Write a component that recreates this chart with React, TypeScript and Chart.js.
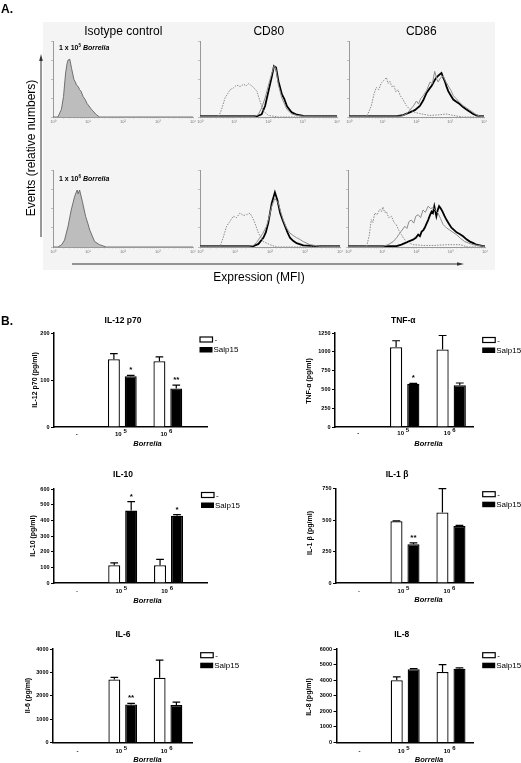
import React, { useEffect, useRef } from "react";
import { Chart, registerables } from "chart.js";
Chart.register(...registerables);

const FONT = "'Liberation Sans', Arial, Helvetica, sans-serif";
Chart.defaults.font.family = FONT;
Chart.defaults.color = "#000";

// ---------------- Panel B data ----------------
const doseIndex = [0, 1, 2];
const doseBase = ["-", "10", "10"];
const doseExp = ["", "5", "6"];
const legendLabels = ["-", "Salp15"];

const il12Medium = [null, 144, 140];
const il12MediumErr = [0, 12, 9];
const il12Salp = [null, 108, 82];
const il12SalpErr = [0, 2, 7];
const il12Sig = ["", "*", "**"];

const tnfMedium = [null, 1062, 1032];
const tnfMediumErr = [0, 85, 185];
const tnfSalp = [null, 575, 555];
const tnfSalpErr = [0, 4, 30];
const tnfSig = ["", "*", ""];

const il10Medium = [null, 113, 113];
const il10MediumErr = [0, 16, 38];
const il10Salp = [null, 462, 430];
const il10SalpErr = [0, 58, 7];
const il10Sig = ["", "*", "*"];

const il1bMedium = [null, 490, 559];
const il1bMediumErr = [0, 3, 190];
const il1bSalp = [null, 307, 453];
const il1bSalpErr = [0, 12, 5];
const il1bSig = ["", "**", ""];

const il6Medium = [null, 2700, 2770];
const il6MediumErr = [0, 85, 757];
const il6Salp = [null, 1630, 1600];
const il6SalpErr = [0, 40, 128];
const il6Sig = ["", "**", ""];

const il8Medium = [null, 4000, 4530];
const il8MediumErr = [0, 210, 470];
const il8Salp = [null, 4700, 4740];
const il8SalpErr = [0, 40, 50];
const il8Sig = ["", "", ""];

// ---------------- Panel A data: [log10 MFI, % of max events] ----------------
const isoTop = [[0,0],[0.14,0],[0.24,10],[0.30,27],[0.36,58],[0.40,70],[0.43,75],[0.48,76],[0.53,64],[0.60,49],[0.64,46],[0.67,42],[0.72,40],[0.76,36],[0.80,34],[0.86,27],[0.92,23],[0.97,18],[1.10,10],[1.24,3],[1.33,0],[4,0]];
const isoBot = [[0,0],[0.14,0],[0.25,3],[0.33,9],[0.43,27],[0.52,48],[0.62,66],[0.69,74],[0.72,69],[0.76,74],[0.84,59],[0.93,40],[1.0,30],[1.05,22],[1.19,7],[1.33,3],[1.52,0],[4,0]];

const cd80TopCtrl = [[0,0],[0.54,0],[0.63,10],[0.73,25],[0.80,30],[0.88,36],[0.97,38],[1.07,42],[1.17,40],[1.27,43],[1.35,41],[1.41,44],[1.48,42],[1.56,39],[1.66,34],[1.75,21],[1.85,8],[2.0,2],[2.3,0],[4,0]];
const cd80TopGray = [[0,1],[1.6,1],[1.70,3],[1.80,12],[1.90,25],[2.0,42],[2.10,58],[2.17,68],[2.22,62],[2.29,42],[2.39,25],[2.54,10],[2.68,4],[2.83,2],[3.0,1],[4,1]];
const cd80TopBlack = [[0,1],[1.66,1],[1.80,3.5],[1.90,14.5],[2.0,34],[2.10,54],[2.16,67],[2.22,65],[2.29,47],[2.39,30],[2.46,24],[2.54,14],[2.68,6],[2.83,3],[3.02,1.5],[4,1]];

const cd86TopCtrl = [[0,0],[0.52,0],[0.66,14.5],[0.74,30],[0.81,39],[0.88,36],[0.96,45],[1.03,48],[1.11,52],[1.16,44],[1.21,47],[1.27,40],[1.33,41],[1.39,33],[1.45,36],[1.52,28],[1.60,23],[1.70,15],[1.80,10],[1.95,6],[2.10,4.5],[2.39,2],[2.7,3],[2.88,4],[3.1,2],[3.37,0],[4,0]];
const cd86TopGray = [[0,1],[1.55,1],[1.70,4],[1.80,9],[1.90,14],[2.0,21],[2.06,17],[2.12,24],[2.2,28],[2.30,35],[2.40,46],[2.47,44],[2.54,60],[2.60,50],[2.64,46],[2.72,52],[2.79,54],[2.86,47],[2.94,41],[3.02,35],[3.09,28],[3.18,24],[3.28,19],[3.38,15],[3.48,12],[3.58,9],[3.68,6],[3.78,3],[3.88,1],[4,1]];
const cd86TopBlack = [[0,1],[1.41,1],[1.60,2.5],[1.80,6],[1.95,9],[2.10,14.5],[2.20,22],[2.30,32],[2.38,37],[2.45,41],[2.52,47],[2.59,52],[2.66,55],[2.74,58],[2.79,52],[2.84,47],[2.89,40],[2.94,34],[3.02,28],[3.09,23],[3.18,20],[3.28,17],[3.38,13],[3.48,10],[3.58,7],[3.68,4],[3.78,2],[3.88,1],[4,1]];

const cd80BotCtrl = [[0,0],[0.57,0],[0.66,12],[0.76,27],[0.85,33],[0.95,40],[1.04,38],[1.14,44],[1.24,41],[1.33,42],[1.43,44],[1.50,38],[1.57,31],[1.67,18],[1.81,7],[2.0,3],[2.19,0],[4,0]];
const cd80BotGray = [[0,1],[1.40,1],[1.52,2],[1.62,6],[1.71,12],[1.80,18],[1.90,27],[1.98,40],[2.05,53],[2.14,63],[2.24,57],[2.31,45],[2.38,35],[2.47,25],[2.57,18],[2.66,15],[2.76,12],[2.85,10],[2.95,7],[3.05,5],[3.14,3],[3.43,1],[4,1]];
const cd80BotBlack = [[0,1],[1.52,1],[1.67,4],[1.81,12],[1.88,19],[1.95,31],[2.05,57],[2.14,71],[2.21,61],[2.29,44],[2.36,35],[2.43,27],[2.50,19],[2.57,12],[2.66,8],[2.76,5],[2.95,2],[3.33,1],[4,1]];

const cd86BotCtrl = [[0,0],[0.54,0],[0.62,15],[0.68,35.5],[0.73,32],[0.78,44],[0.85,42],[0.93,49],[0.98,46],[1.02,52],[1.07,45],[1.12,46],[1.19,38],[1.27,40],[1.34,32],[1.41,29],[1.48,22],[1.56,16],[1.63,11],[1.71,7],[1.90,3],[2.2,2],[2.49,2],[2.9,3],[3.27,3],[3.5,0],[4,0]];
const cd86BotGray = [[0,1],[1.02,1],[1.17,3],[1.32,7],[1.42,12],[1.51,18],[1.58,22],[1.66,27],[1.72,24],[1.78,33],[1.85,35],[1.92,31],[1.98,40],[2.05,42],[2.12,38],[2.19,48],[2.26,45],[2.34,53],[2.41,50],[2.49,51],[2.56,47],[2.63,44],[2.70,37],[2.78,29],[2.87,25],[2.97,22],[3.07,19],[3.17,16],[3.29,11],[3.41,7],[3.53,5],[3.65,3],[3.80,2],[3.94,1],[4,1]];
const cd86BotBlack = [[0,1],[1.41,1],[1.56,3],[1.71,6],[1.81,8],[1.90,9.5],[1.98,12],[2.05,16],[2.10,14],[2.15,20],[2.20,22],[2.24,25],[2.29,30],[2.34,35],[2.39,41],[2.44,46],[2.48,44],[2.52,53],[2.58,40],[2.62,48],[2.66,53],[2.71,50],[2.76,46],[2.82,40],[2.88,35],[2.95,30],[3.02,25],[3.10,22],[3.17,19],[3.26,17],[3.36,14],[3.46,10],[3.56,7],[3.66,5],[3.75,3],[3.85,2],[3.94,1],[4,1]];

const decadeLabels = ["10\u2070", "10\u00B9", "10\u00B2", "10\u00B3", "10\u2074"];

// ---------------- Bar panel ----------------
type BarSpec = {
  cell: number[]; area: number[]; xRange: number[];
  yMax: number; yStep: number;
  title: string; titlePos: number[];
  yTitle: string; yTitlePos: number[];
  legendPos: number[]; catY: number; borreliaPos: number[];
  medium: (number | null)[]; mediumErr: number[];
  salp: (number | null)[]; salpErr: number[]; sig: string[];
};

function BarPanel({ s }: { s: BarSpec }) {
  const ref = useRef<HTMLCanvasElement>(null);
  useEffect(() => {
    const [cx, cy, cw, ch] = s.cell;
    const [l, t, r, b] = s.area;
    const YW = 20, XH = 4;
    const ann = {
      id: "ann",
      afterDraw(chart: any) {
        const ctx = chart.ctx;
        const xs = chart.scales.x, ys = chart.scales.y;
        ctx.save();
        const sets = [
          { vals: s.medium, err: s.mediumErr, sig: null as string[] | null },
          { vals: s.salp, err: s.salpErr, sig: s.sig },
        ];
        sets.forEach((d, di) => {
          const meta = chart.getDatasetMeta(di);
          meta.data.forEach((bar: any, i: number) => {
            const v = d.vals[i];
            if (v == null) return;
            const x = bar.x, w = bar.width;
            const yv = ys.getPixelForValue(v);
            const ye = ys.getPixelForValue(v + d.err[i]);
            ctx.strokeStyle = "#000";
            ctx.lineWidth = 1.2;
            if (d.err[i] > 0) {
              ctx.beginPath();
              ctx.moveTo(x, yv);
              ctx.lineTo(x, ye);
              ctx.moveTo(x - w * 0.32, ye);
              ctx.lineTo(x + w * 0.32, ye);
              ctx.stroke();
            }
            if (d.sig && d.sig[i]) {
              ctx.fillStyle = "#000";
              ctx.font = `bold 8px ${FONT}`;
              ctx.textAlign = "center";
              ctx.textBaseline = "alphabetic";
              ctx.fillText(d.sig[i], x, ye - 3);
            }
          });
        });
        // category labels
        ctx.fillStyle = "#000";
        ctx.textBaseline = "middle";
        doseIndex.forEach((i) => {
          const px = xs.getPixelForValue(i);
          const y = s.catY - cy;
          ctx.font = `bold 6px ${FONT}`;
          if (!doseExp[i]) {
            ctx.textAlign = "center";
            ctx.fillText(doseBase[i], px, y);
          } else {
            ctx.textAlign = "center";
            ctx.fillText(doseBase[i], px - 4, y);
            const w10 = ctx.measureText(doseBase[i]).width;
            ctx.textAlign = "left";
            ctx.fillText(doseExp[i], px - 4 + w10 / 2 + 1.8, y - 3);
          }
        });
        // Borrelia
        ctx.font = `italic bold 7.5px ${FONT}`;
        ctx.textAlign = "center";
        ctx.fillText("Borrelia", s.borreliaPos[0] - cx, s.borreliaPos[1] - cy);
        // title
        ctx.font = `bold 8.5px ${FONT}`;
        ctx.fillText(s.title, s.titlePos[0] - cx, s.titlePos[1] - cy);
        // y title
        ctx.save();
        ctx.translate(s.yTitlePos[0] - cx, s.yTitlePos[1] - cy);
        ctx.rotate(-Math.PI / 2);
        ctx.font = `bold 7px ${FONT}`;
        ctx.fillText(s.yTitle, 0, 0);
        ctx.restore();
        // legend
        const lx = s.legendPos[0] - cx, ly = s.legendPos[1] - cy;
        ctx.lineWidth = 1.2;
        ctx.fillStyle = "#fff";
        ctx.strokeStyle = "#000";
        ctx.fillRect(lx, ly, 12.5, 5);
        ctx.strokeRect(lx, ly, 12.5, 5);
        ctx.fillStyle = "#000";
        ctx.fillRect(lx - 0.5, ly + 10, 13, 5.5);
        ctx.font = `8px ${FONT}`;
        ctx.textAlign = "left";
        ctx.fillText(legendLabels[0], lx + 14.5, ly + 2.8);
        ctx.fillText(legendLabels[1], lx + 13.5, ly + 13);
        ctx.restore();
      },
    };
    const mk = (vals: (number | null)[]) => doseIndex.map((i) => ({ x: i, y: vals[i] }));
    const chart = new Chart(ref.current as HTMLCanvasElement, {
      type: "bar",
      data: {
        datasets: [
          { label: legendLabels[0], data: mk(s.medium) as any, backgroundColor: "#fff", borderColor: "#000", borderWidth: 1.3, categoryPercentage: 0.74, barPercentage: 0.71 },
          { label: legendLabels[1], data: mk(s.salp) as any, backgroundColor: "#000", borderColor: "#000", borderWidth: 1.3, categoryPercentage: 0.74, barPercentage: 0.71 },
        ],
      },
      options: {
        responsive: false,
        animation: false,
        events: [],
        layout: { padding: { left: l - cx - YW, top: t - cy, right: cx + cw - r, bottom: cy + ch - b - XH } },
        plugins: { legend: { display: false }, tooltip: { enabled: false } },
        scales: {
          x: {
            type: "linear", min: s.xRange[0], max: s.xRange[1], offset: false,
            grid: { display: false },
            border: { display: true, color: "#000", width: 1.5 },
            ticks: { display: false },
            afterBuildTicks: (sc: any) => { sc.ticks = doseIndex.map((v) => ({ value: v })); },
            afterFit: (sc: any) => { sc.height = XH; },
          },
          y: {
            type: "linear", min: 0, max: s.yMax,
            ticks: { stepSize: s.yStep, font: { size: 5.5, weight: "bold" }, color: "#000", padding: 1.5, callback: (v: any) => String(v) },
            grid: { display: true, drawOnChartArea: false, drawTicks: true, tickLength: 3, color: "#000", lineWidth: 1 },
            border: { display: true, color: "#000", width: 1.5 },
            afterFit: (sc: any) => { sc.width = YW; },
          },
        },
      } as any,
      plugins: [ann],
    });
    return () => chart.destroy();
  }, []);
  return (
    <canvas
      ref={ref}
      width={s.cell[2]}
      height={s.cell[3]}
      style={{ position: "absolute", left: s.cell[0], top: s.cell[1], width: s.cell[2], height: s.cell[3] }}
    />
  );
}

// ---------------- Histogram panel ----------------
type Curve = { pts: number[][]; kind: "iso" | "ctrl" | "gray" | "black" };

function HistPanel({ area, curves }: { area: number[]; curves: Curve[] }) {
  const ref = useRef<HTMLCanvasElement>(null);
  const [l, t, r, b] = area;
  const cl = l - 8, ct = t - 3;
  const w = r - l + 14, h = b - t + 3 + 8;
  useEffect(() => {
    const styles: any = {
      iso: { borderColor: "#555", borderWidth: 0.8, fill: "origin", backgroundColor: "#bdbdbd" },
      ctrl: { borderColor: "#8a8a8a", borderWidth: 1, borderDash: [1.5, 1.2], fill: false },
      gray: { borderColor: "#8d8d8d", borderWidth: 1, fill: false },
      black: { borderColor: "#000", borderWidth: 1.8, fill: false },
    };
    const chart = new Chart(ref.current as HTMLCanvasElement, {
      type: "line",
      data: {
        datasets: curves.map((c) => ({
          data: c.pts.map((p) => ({ x: Math.pow(10, p[0]), y: p[1] })),
          pointRadius: 0,
          tension: 0,
          ...styles[c.kind],
        })),
      },
      options: {
        responsive: false,
        animation: false,
        events: [],
        layout: { padding: { left: 0, top: 3, right: 6, bottom: 0 } },
        plugins: { legend: { display: false }, tooltip: { enabled: false } },
        scales: {
          x: {
            type: "logarithmic", min: 1, max: 10000,
            ticks: {
              autoSkip: false, maxRotation: 0, padding: 0.5,
              font: { size: 4 }, color: "#777",
              callback: (v: any) => {
                const e = Math.log10(Number(v));
                return Math.abs(e - Math.round(e)) < 1e-9 ? decadeLabels[Math.round(e)] : "";
              },
            },
            grid: { display: true, drawOnChartArea: false, tickLength: 1.5, color: "#aaa", lineWidth: 0.5 },
            border: { display: true, color: "#999", width: 1 },
            afterFit: (sc: any) => { sc.height = 8; },
          },
          y: {
            type: "linear", min: 0, max: 100,
            ticks: { stepSize: 25, display: false },
            grid: { display: true, drawOnChartArea: false, tickLength: 2, color: "#999", lineWidth: 0.6 },
            border: { display: true, color: "#999", width: 1 },
            afterFit: (sc: any) => { sc.width = 8; },
          },
        },
      } as any,
    });
    return () => chart.destroy();
  }, []);
  return (
    <canvas ref={ref} width={w} height={h} style={{ position: "absolute", left: cl, top: ct, width: w, height: h }} />
  );
}

const T = ({ x, y, children, style }: any) => (
  <div style={{ position: "absolute", left: x, top: y, transform: "translate(-50%,-50%)", whiteSpace: "nowrap", lineHeight: 1, fontFamily: FONT, ...style }}>
    {children}
  </div>
);
const TL = ({ x, y, children, style }: any) => (
  <div style={{ position: "absolute", left: x, top: y, transform: "translate(0,-50%)", whiteSpace: "nowrap", lineHeight: 1, fontFamily: FONT, ...style }}>
    {children}
  </div>
);

const barSpecs: BarSpec[] = [
  { cell: [0, 310, 260, 150], area: [54, 333, 207, 427], xRange: [-0.5, 2.86], yMax: 200, yStep: 100,
    title: "IL-12 p70", titlePos: [123, 321], yTitle: "IL-12 p70 (pg/ml)", yTitlePos: [35, 380],
    legendPos: [200, 337], catY: 434, borreliaPos: [147.5, 443.5],
    medium: il12Medium, mediumErr: il12MediumErr, salp: il12Salp, salpErr: il12SalpErr, sig: il12Sig },
  { cell: [260, 310, 261, 150], area: [335, 333, 473, 427], xRange: [-0.5, 2.47], yMax: 1250, yStep: 250,
    title: "TNF-\u03B1", titlePos: [403.3, 321], yTitle: "TNF-\u03B1 (pg/ml)", yTitlePos: [309.5, 381],
    legendPos: [482.7, 337.5], catY: 433.5, borreliaPos: [428.5, 443.5],
    medium: tnfMedium, mediumErr: tnfMediumErr, salp: tnfSalp, salpErr: tnfSalpErr, sig: tnfSig },
  { cell: [0, 460, 260, 150], area: [54, 489, 207, 583], xRange: [-0.5, 2.84], yMax: 600, yStep: 100,
    title: "IL-10", titlePos: [123, 475], yTitle: "IL-10 (pg/ml)", yTitlePos: [32.7, 536],
    legendPos: [201.5, 492.5], catY: 591.5, borreliaPos: [147.5, 600.5],
    medium: il10Medium, mediumErr: il10MediumErr, salp: il10Salp, salpErr: il10SalpErr, sig: il10Sig },
  { cell: [260, 460, 261, 150], area: [336, 488.5, 473, 583], xRange: [-0.5, 2.48], yMax: 750, yStep: 250,
    title: "IL-1 \u03B2", titlePos: [397, 475], yTitle: "IL-1 \u03B2 (pg/ml)", yTitlePos: [310, 533],
    legendPos: [482.7, 491.7], catY: 591, borreliaPos: [428.5, 600],
    medium: il1bMedium, mediumErr: il1bMediumErr, salp: il1bSalp, salpErr: il1bSalpErr, sig: il1bSig },
  { cell: [0, 610, 260, 153], area: [53, 649, 192, 742.5], xRange: [-0.54, 2.53], yMax: 4000, yStep: 1000,
    title: "IL-6", titlePos: [123, 635], yTitle: "Il-6 (pg/ml)", yTitlePos: [28.5, 695.5],
    legendPos: [200.7, 652.7], catY: 751, borreliaPos: [147.5, 760],
    medium: il6Medium, mediumErr: il6MediumErr, salp: il6Salp, salpErr: il6SalpErr, sig: il6Sig },
  { cell: [260, 610, 261, 153], area: [336.5, 649, 473, 742.5], xRange: [-0.5, 2.48], yMax: 6000, yStep: 1000,
    title: "IL-8", titlePos: [401.7, 635], yTitle: "IL-8 (pg/ml)", yTitlePos: [309.3, 697],
    legendPos: [482.7, 652.7], catY: 751, borreliaPos: [429, 760],
    medium: il8Medium, mediumErr: il8MediumErr, salp: il8Salp, salpErr: il8SalpErr, sig: il8Sig },
];

const histSpecs = [
  { area: [53, 41, 193, 117], curves: [{ pts: isoTop, kind: "iso" }] },
  { area: [200, 41, 337, 117], curves: [{ pts: cd80TopCtrl, kind: "ctrl" }, { pts: cd80TopGray, kind: "gray" }, { pts: cd80TopBlack, kind: "black" }] },
  { area: [349, 41, 484, 117], curves: [{ pts: cd86TopCtrl, kind: "ctrl" }, { pts: cd86TopGray, kind: "gray" }, { pts: cd86TopBlack, kind: "black" }] },
  { area: [53, 170, 193, 247], curves: [{ pts: isoBot, kind: "iso" }] },
  { area: [200, 170, 340, 247], curves: [{ pts: cd80BotCtrl, kind: "ctrl" }, { pts: cd80BotGray, kind: "gray" }, { pts: cd80BotBlack, kind: "black" }] },
  { area: [348, 170, 485, 247], curves: [{ pts: cd86BotCtrl, kind: "ctrl" }, { pts: cd86BotGray, kind: "gray" }, { pts: cd86BotBlack, kind: "black" }] },
] as { area: number[]; curves: Curve[] }[];

export default function App() {
  const lab = { fontSize: 7, fontWeight: "bold" as const };
  return (
    <div style={{ position: "absolute", left: 0, top: 0, width: 521, height: 763, background: "#fff", overflow: "hidden", fontFamily: FONT }}>
      <div style={{ position: "absolute", left: 43, top: 22, width: 452, height: 248, background: "#f4f4f4" }} />
      {histSpecs.map((h, i) => (
        <HistPanel key={i} area={h.area} curves={h.curves} />
      ))}
      {barSpecs.map((s, i) => (
        <BarPanel key={i} s={s} />
      ))}
      <svg width={521} height={763} style={{ position: "absolute", left: 0, top: 0, pointerEvents: "none" }}>
        <line x1={41} y1={237} x2={41} y2={60} stroke="#333" strokeWidth={1} />
        <polygon points="41,54 39.2,61 42.8,61" fill="#333" />
        <line x1={72} y1={264} x2={458} y2={264} stroke="#333" strokeWidth={1} />
        <polygon points="464,264 457,262.2 457,265.8" fill="#333" />
      </svg>
      <TL x={1} y={8.5} style={{ fontSize: 12, fontWeight: "bold" }}>A.</TL>
      <TL x={1} y={320.5} style={{ fontSize: 12, fontWeight: "bold" }}>B.</TL>
      <T x={123.3} y={30.5} style={{ fontSize: 12 }}>Isotype control</T>
      <T x={268.8} y={31} style={{ fontSize: 12 }}>CD80</T>
      <T x={421.3} y={31} style={{ fontSize: 12 }}>CD86</T>
      <TL x={59} y={47} style={lab}>1 x 10<sup style={{ fontSize: 4.5, verticalAlign: "top" }}>5</sup> <i>Borrelia</i></TL>
      <TL x={59} y={178} style={lab}>1 x 10<sup style={{ fontSize: 4.5, verticalAlign: "top" }}>6</sup> <i>Borrelia</i></TL>
      <T x={31} y={148} style={{ fontSize: 12, transform: "translate(-50%,-50%) rotate(-90deg)" }}>Events (relative numbers)</T>
      <T x={259} y={276.5} style={{ fontSize: 12 }}>Expression (MFI)</T>
    </div>
  );
}
